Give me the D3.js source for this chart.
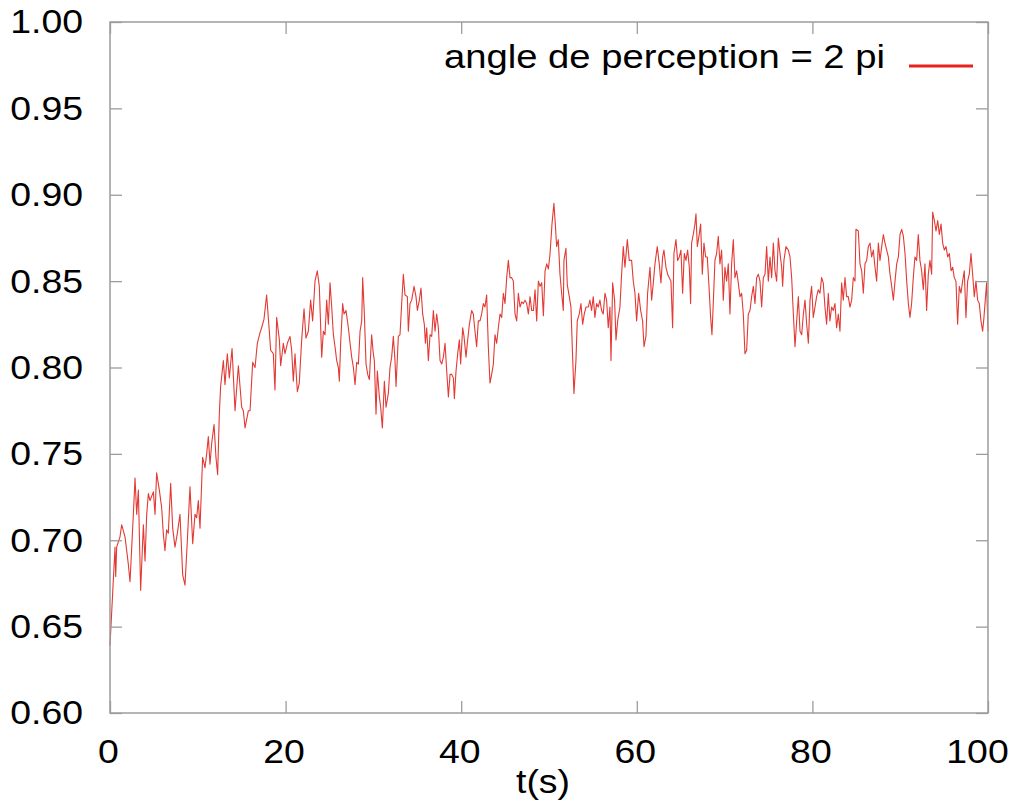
<!DOCTYPE html>
<html>
<head>
<meta charset="utf-8">
<script src="https://cdn.jsdelivr.net/npm/d3@7"></script>
<style>
  html, body { margin: 0; padding: 0; background: #fff; }
  svg { display: block; }
  text { font-family: "Liberation Sans", Arial, Helvetica, sans-serif; fill: #000; }
</style>
</head>
<body>
<svg id="chart" width="1014" height="803"></svg>
<script>
// Time stamps (s) of the sampled series
const times = [
  0.0, 0.57, 0.65, 0.76, 1.14, 1.33, 1.71, 2.09, 2.28, 2.66, 2.85, 3.04, 3.23, 3.49, 3.80, 3.99,
  4.18, 4.37, 4.56, 4.94, 5.13, 5.31, 5.62, 5.88, 6.07, 6.26, 6.45, 6.64, 6.91, 7.14, 7.40, 7.67,
  7.97, 8.28, 8.54, 8.81, 9.11, 9.42, 9.68, 9.87, 10.06, 10.25, 10.55, 10.82, 11.01, 11.20, 11.39, 11.58,
  11.85, 12.07, 12.26, 12.45, 12.60, 12.91, 13.10, 13.36, 13.59, 13.90, 14.24, 14.62, 14.81, 15.00, 15.19, 15.38,
  15.76, 15.95, 16.25, 16.52, 16.78, 17.08, 17.27, 17.54, 17.84, 18.03, 18.30, 18.60, 18.79, 18.98, 19.29, 19.44,
  19.74, 19.93, 20.20, 20.50, 20.69, 20.88, 21.07, 21.34, 21.56, 21.83, 22.10, 22.32, 22.59, 22.85, 23.08, 23.35,
  23.61, 23.84, 24.11,
  24.30, 24.49, 24.68, 24.87, 25.06, 25.25, 25.44, 25.63, 25.82, 26.01, 26.12, 26.27, 26.50, 26.65, 26.88, 27.15,
  27.34, 27.53, 27.72, 27.91, 28.10, 28.29, 28.48, 28.67, 28.78, 28.97, 29.16, 29.35, 29.54, 29.80, 29.99, 30.11,
  30.30, 30.45, 30.68, 30.83, 31.02, 31.25, 31.44, 31.70, 31.89, 32.08, 32.27, 32.46, 32.58, 32.84, 33.03, 33.22,
  33.41, 33.60, 33.87, 33.98, 34.17, 34.36, 34.63, 34.85, 35.01, 35.23, 35.42, 35.61, 35.80, 35.92, 36.07, 36.26,
  36.45, 36.64, 36.83, 37.02, 37.21, 37.40, 37.59, 37.78, 37.97, 38.16, 38.35, 38.54, 38.73, 38.92, 39.11, 39.22,
  39.41, 39.60, 39.79, 39.94, 40.17, 40.32, 40.55, 40.70, 40.93, 41.19, 41.38, 41.57, 41.76, 41.95, 42.14, 42.33,
  42.52, 42.71, 42.90, 43.09, 43.28, 43.47, 43.66, 43.85, 44.04, 44.23, 44.42, 44.61, 44.80, 44.99, 45.18, 45.37,
  45.56, 45.75, 45.94, 46.13, 46.32, 46.51, 46.70, 46.89, 47.08, 47.27, 47.46, 47.65, 47.84, 48.03, 48.22, 48.41,
  48.60, 48.79, 48.98, 49.17, 49.36, 49.55, 49.74, 49.93, 50.12,
  50.34, 50.56, 50.72, 50.87, 51.06, 51.25, 51.44, 51.63, 51.70, 51.93, 52.08, 52.31, 52.50, 52.65, 52.84, 53.07,
  53.22, 53.45, 53.64, 53.83, 54.02, 54.21, 54.47, 54.66, 54.85, 55.04, 55.23, 55.42, 55.61, 55.80, 55.99, 56.18,
  56.37, 56.56, 56.75, 56.94, 57.06, 57.25, 57.47, 57.63, 57.82, 58.08, 58.27, 58.46, 58.65, 58.92, 59.14, 59.41,
  59.60, 59.79, 59.98, 60.21, 60.44, 60.66, 60.82, 61.04, 61.23, 61.50, 61.69, 61.88, 62.07, 62.33, 62.56, 62.75,
  62.94, 63.09, 63.32, 63.51, 63.70, 63.89, 64.08, 64.23, 64.46, 64.65, 64.84, 65.03, 65.22, 65.41, 65.60, 65.79,
  65.98, 66.13, 66.24, 66.43, 66.62, 66.74, 66.89, 67.08, 67.27, 67.46, 67.65, 67.84, 68.03, 68.22, 68.41, 68.56,
  68.71, 68.90, 69.09, 69.28, 69.47, 69.66, 69.85, 70.04, 70.23, 70.42, 70.61, 70.80, 70.99, 71.18, 71.37, 71.56,
  71.75, 71.94, 72.13, 72.32, 72.51, 72.70, 72.89, 73.08, 73.27, 73.46, 73.65, 73.84, 74.03, 74.22, 74.41, 74.60,
  74.79, 74.98,
  75.17, 75.36, 75.55, 75.74, 75.93, 76.12, 76.31, 76.50, 76.61, 76.76, 76.99, 77.26, 77.45, 77.64, 77.83, 78.02,
  78.21, 78.40, 78.59, 78.78, 78.97, 79.16, 79.35, 79.54, 79.73, 79.91, 80.10, 80.29, 80.48, 80.67, 80.86, 81.05,
  81.24, 81.43, 81.62, 81.81, 82.00, 82.19, 82.38, 82.57, 82.76, 82.95, 83.14, 83.33, 83.52, 83.71, 83.90, 84.09,
  84.28, 84.47, 84.66, 84.85, 84.96, 85.23, 85.42, 85.61, 85.80, 85.99, 86.18, 86.37, 86.56, 86.75, 86.94, 87.13,
  87.32, 87.51, 87.70, 87.89, 88.08, 88.27, 88.46, 88.65, 88.84, 89.03, 89.22, 89.41, 89.60, 89.79, 89.98, 90.17,
  90.36, 90.55, 90.74, 90.93, 91.11, 91.30, 91.49, 91.68, 91.87, 92.06, 92.25, 92.44, 92.63, 92.82, 93.01, 93.20,
  93.39, 93.58, 93.70, 93.89, 94.08, 94.27, 94.46, 94.65, 94.84, 95.03, 95.22, 95.41, 95.60, 95.79, 95.98, 96.16,
  96.35, 96.54, 96.73, 96.92, 97.11, 97.30, 97.49, 97.68, 97.87, 98.06, 98.25, 98.44, 98.63, 98.82, 99.01, 99.20,
  99.39, 99.54, 99.69, 99.84, 100.0
];

// Measured values for "angle de perception = 2 pi"
const values = [
  0.639, 0.696, 0.679, 0.696, 0.702, 0.709, 0.702, 0.686, 0.676, 0.715, 0.736, 0.715, 0.729, 0.671, 0.709, 0.688,
  0.715, 0.727, 0.723, 0.728, 0.715, 0.739, 0.729, 0.719, 0.704, 0.694, 0.706, 0.704, 0.733, 0.707, 0.696, 0.704,
  0.715, 0.680, 0.674, 0.700, 0.731, 0.698, 0.715, 0.713, 0.723, 0.707, 0.748, 0.742, 0.750, 0.760, 0.744, 0.756,
  0.767, 0.748, 0.738, 0.773, 0.789, 0.804, 0.790, 0.808, 0.794, 0.811, 0.775, 0.801, 0.789, 0.777, 0.775, 0.765,
  0.775, 0.775, 0.803, 0.800, 0.814, 0.820, 0.823, 0.828, 0.842, 0.829, 0.810, 0.808, 0.787, 0.829, 0.816, 0.801,
  0.814, 0.808, 0.814, 0.818, 0.810, 0.792, 0.808, 0.786, 0.791, 0.816, 0.834, 0.817, 0.821, 0.839, 0.827, 0.850,
  0.856, 0.847, 0.806,
  0.821, 0.819, 0.839, 0.825, 0.849, 0.835, 0.819, 0.812, 0.804, 0.800, 0.792, 0.814, 0.837, 0.831, 0.833, 0.823,
  0.814, 0.806, 0.800, 0.790, 0.803, 0.802, 0.821, 0.827, 0.852, 0.831, 0.802, 0.796, 0.793, 0.819, 0.808, 0.804,
  0.773, 0.798, 0.783, 0.777, 0.765, 0.792, 0.777, 0.785, 0.800, 0.806, 0.818, 0.804, 0.789, 0.818, 0.819, 0.837,
  0.854, 0.842, 0.841, 0.821, 0.837, 0.839, 0.847, 0.841, 0.833, 0.839, 0.846, 0.831, 0.825, 0.814, 0.823, 0.804,
  0.819, 0.818, 0.833, 0.821, 0.831, 0.823, 0.804, 0.802, 0.806, 0.814, 0.798, 0.783, 0.796, 0.796, 0.794, 0.782,
  0.798, 0.808, 0.816, 0.802, 0.823, 0.818, 0.806, 0.814, 0.825, 0.833, 0.831, 0.821, 0.812, 0.827, 0.827, 0.831,
  0.837, 0.835, 0.842, 0.812, 0.791, 0.796, 0.802, 0.819, 0.814, 0.823, 0.831, 0.829, 0.843, 0.837, 0.852, 0.862,
  0.852, 0.852, 0.850, 0.831, 0.827, 0.843, 0.835, 0.838, 0.837, 0.839, 0.837, 0.831, 0.841, 0.833, 0.833, 0.845,
  0.827, 0.850, 0.847, 0.849, 0.830, 0.856, 0.860, 0.857, 0.866,
  0.883, 0.895, 0.883, 0.870, 0.874, 0.854, 0.843, 0.833, 0.862, 0.869, 0.848, 0.841, 0.835, 0.812, 0.785, 0.804,
  0.827, 0.831, 0.837, 0.825, 0.831, 0.835, 0.835, 0.839, 0.833, 0.841, 0.829, 0.837, 0.835, 0.839, 0.833, 0.831,
  0.843, 0.839, 0.823, 0.835, 0.804, 0.849, 0.839, 0.816, 0.827, 0.835, 0.854, 0.870, 0.858, 0.874, 0.862, 0.862,
  0.850, 0.843, 0.827, 0.843, 0.833, 0.827, 0.812, 0.818, 0.843, 0.858, 0.839, 0.849, 0.860, 0.870, 0.860, 0.849,
  0.864, 0.868, 0.858, 0.854, 0.852, 0.850, 0.823, 0.866, 0.874, 0.862, 0.864, 0.868, 0.843, 0.866, 0.862, 0.868,
  0.858, 0.837, 0.872, 0.877, 0.883, 0.889, 0.870, 0.876, 0.883, 0.854, 0.872, 0.864, 0.864, 0.847, 0.829, 0.819,
  0.837, 0.862, 0.866, 0.876, 0.860, 0.868, 0.839, 0.858, 0.850, 0.860, 0.831, 0.860, 0.874, 0.852, 0.856, 0.849,
  0.841, 0.843, 0.831, 0.808, 0.810, 0.831, 0.833, 0.841, 0.847, 0.837, 0.852, 0.854, 0.850, 0.835, 0.852, 0.854,
  0.870, 0.850,
  0.864, 0.852, 0.872, 0.856, 0.850, 0.875, 0.866, 0.858, 0.847, 0.862, 0.870, 0.868, 0.864, 0.852, 0.831, 0.812,
  0.827, 0.841, 0.821, 0.819, 0.831, 0.839, 0.825, 0.814, 0.839, 0.847, 0.829, 0.835, 0.841, 0.845, 0.843, 0.852,
  0.849, 0.835, 0.825, 0.843, 0.827, 0.835, 0.833, 0.837, 0.823, 0.831, 0.821, 0.849, 0.839, 0.852, 0.841, 0.841,
  0.835, 0.839, 0.852, 0.850, 0.880, 0.879, 0.860, 0.856, 0.843, 0.860, 0.862, 0.870, 0.872, 0.864, 0.868, 0.858,
  0.850, 0.872, 0.862, 0.870, 0.877, 0.872, 0.868, 0.864, 0.854, 0.847, 0.839, 0.850, 0.860, 0.864, 0.877, 0.880,
  0.876, 0.866, 0.850, 0.837, 0.829, 0.837, 0.852, 0.864, 0.862, 0.877, 0.862, 0.856, 0.845, 0.860, 0.833, 0.854,
  0.862, 0.854, 0.890, 0.885, 0.879, 0.885, 0.877, 0.883, 0.872, 0.868, 0.870, 0.864, 0.866, 0.856, 0.858, 0.852,
  0.850, 0.825, 0.847, 0.843, 0.850, 0.856, 0.829, 0.850, 0.854, 0.866, 0.854, 0.841, 0.850, 0.839, 0.837, 0.827,
  0.821, 0.829, 0.839, 0.849, 0.821
];

const xTicks = [0, 20, 40, 60, 80, 100];
const yTicks = [0.60, 0.65, 0.70, 0.75, 0.80, 0.85, 0.90, 0.95, 1.00];
const seriesLabel = "angle de perception = 2 pi";
const xLabel = "t(s)";

const svg = d3.select("#chart");
const plotLeft = 110, plotRight = 988, plotTop = 22, plotBottom = 713;
const frameColor = "#9c9c9c";
const lineColor = "#e23a34";
const fontSize = 34;
const textStretch = 1.1;

const x = d3.scaleLinear().domain([0, 100]).range([plotLeft, plotRight]);
const y = d3.scaleLinear().domain([0.6, 1.0]).range([plotBottom, plotTop]);

// Data line (drawn first so the frame sits on top)
const points = times.map((t, i) => [t, values[i]]).filter(d => d[1] !== undefined);
svg.append("path")
  .datum(points)
  .attr("fill", "none")
  .attr("stroke", lineColor)
  .attr("stroke-width", 1.1)
  .attr("stroke-linejoin", "round")
  .attr("d", d3.line().x(d => x(d[0])).y(d => y(d[1])));

// Axes with inward ticks mirrored on all four sides
function styleAxis(g) {
  g.select(".domain").remove();
  g.selectAll(".tick line").attr("stroke", frameColor).attr("stroke-width", 1.3);
  g.selectAll(".tick text").attr("font-size", fontSize).attr("fill", "#000")
    .style("font-family", "'Liberation Sans', Arial, Helvetica, sans-serif");
}

const gLeft = svg.append("g").attr("transform", `translate(${plotLeft},0)`)
  .call(d3.axisLeft(y).tickValues(yTicks).tickFormat(d3.format(".2f")).tickSizeInner(-12).tickSizeOuter(0).tickPadding(0))
  .call(styleAxis);
gLeft.selectAll(".tick text")
  .attr("x", 0)
  .attr("transform", `translate(-27,0) scale(${textStretch},1)`);

svg.append("g").attr("transform", `translate(${plotRight},0)`)
  .call(d3.axisRight(y).tickValues(yTicks).tickFormat("").tickSizeInner(-12).tickSizeOuter(0))
  .call(styleAxis);

const gBottom = svg.append("g").attr("transform", `translate(0,${plotBottom})`)
  .call(d3.axisBottom(x).tickValues(xTicks).tickFormat(d3.format("d")).tickSizeInner(-12).tickSizeOuter(0).tickPadding(0))
  .call(styleAxis);
gBottom.selectAll(".tick text")
  .attr("y", 0)
  .attr("dy", null)
  .attr("transform", d => `translate(${d === 100 ? -11 : -2},50) scale(${textStretch},1)`);

svg.append("g").attr("transform", `translate(0,${plotTop})`)
  .call(d3.axisTop(x).tickValues(xTicks).tickFormat("").tickSizeInner(-12).tickSizeOuter(0))
  .call(styleAxis);

// Plot frame
svg.append("rect")
  .attr("x", plotLeft).attr("y", plotTop)
  .attr("width", plotRight - plotLeft).attr("height", plotBottom - plotTop)
  .attr("fill", "none")
  .attr("stroke", frameColor)
  .attr("stroke-width", 1.5);

// X axis title
svg.append("text")
  .attr("text-anchor", "middle")
  .attr("font-size", fontSize)
  .attr("transform", `translate(543,793) scale(${textStretch},1)`)
  .text(xLabel);

// Legend
svg.append("text")
  .attr("text-anchor", "end")
  .attr("font-size", fontSize)
  .attr("transform", `translate(885,68) scale(1.125,1)`)
  .text(seriesLabel);
svg.append("line")
  .attr("x1", 909).attr("x2", 973)
  .attr("y1", 66).attr("y2", 66)
  .attr("stroke", "#e8211b")
  .attr("stroke-width", 3);
</script>
</body>
</html>
